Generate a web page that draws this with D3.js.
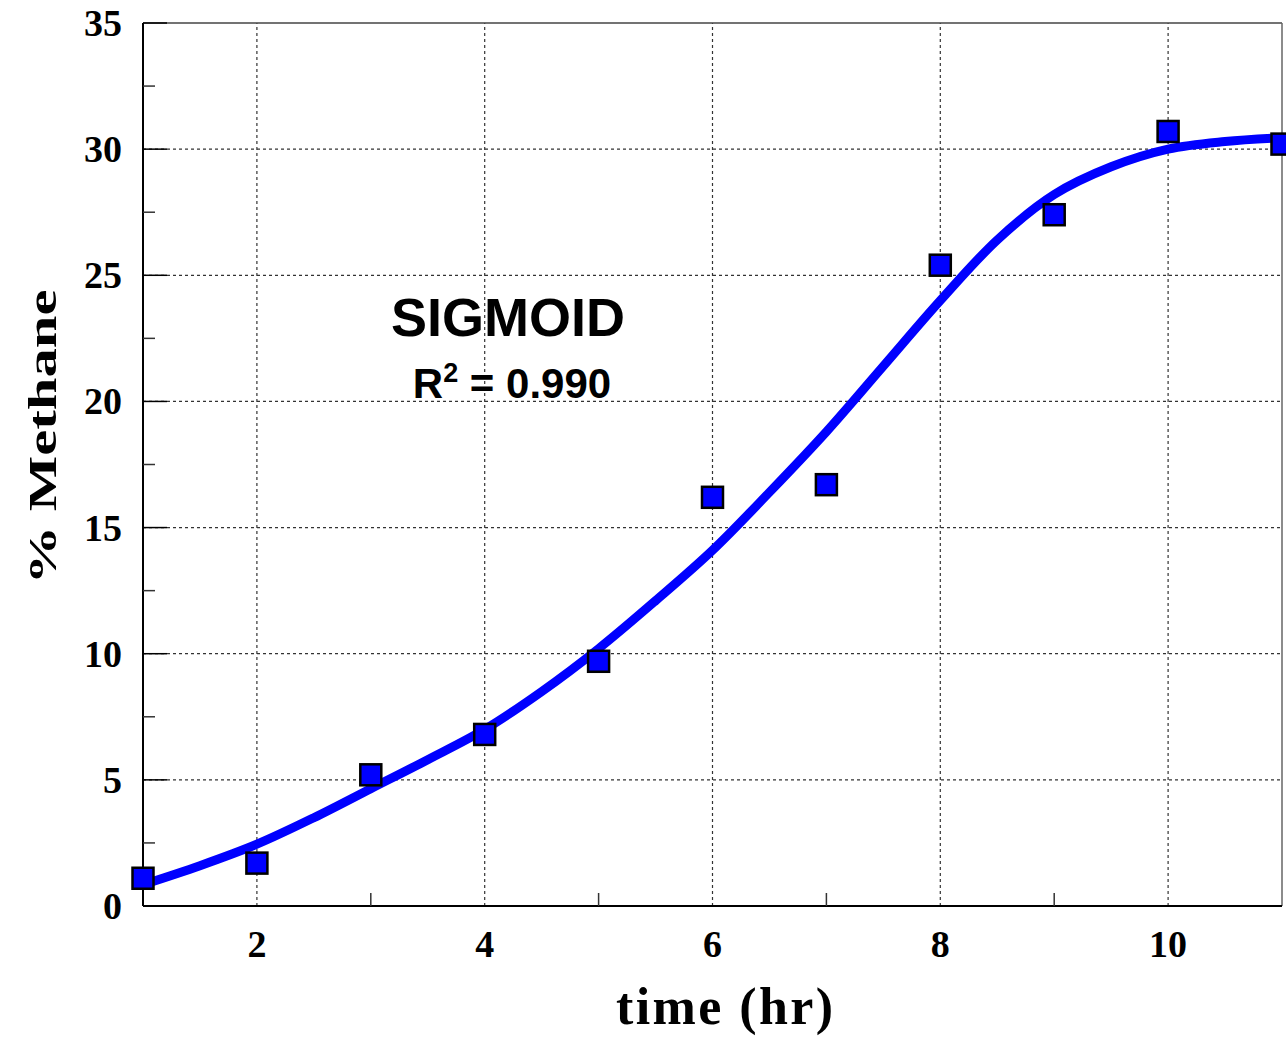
<!DOCTYPE html>
<html>
<head>
<meta charset="utf-8">
<script src="https://cdn.jsdelivr.net/npm/d3@7"></script>
<style>
  body { margin: 0; background: #fff; }
  svg { display: block; }
</style>
</head>
<body>
<div id="chart"></div>
<script>
// measured points (time in hr, % methane)
var timeHr = [1, 2, 3, 4, 5, 6, 7, 8, 9, 10, 11];
var methanePct = [1.1, 1.7, 5.2, 6.8, 9.7, 16.2, 16.7, 25.4, 27.4, 30.7, 30.2];

// fitted sigmoid curve
var fitTime = [1, 1.5, 2, 2.5, 3, 3.5, 4, 4.5, 5, 5.5, 6, 6.5, 7, 7.5, 8, 8.5, 9, 9.5, 10, 10.5, 11];
var fitPct = [0.85, 1.6, 2.45, 3.5, 4.65, 5.8, 7.0, 8.5, 10.2, 12.1, 14.1, 16.4, 18.8, 21.4, 24.0, 26.4, 28.2, 29.3, 30.0, 30.3, 30.45];

var xMajor = [2, 4, 6, 8, 10];
var xMinor = [3, 5, 7, 9];
var yMajor = [0, 5, 10, 15, 20, 25, 30, 35];
var yMinor = [2.5, 7.5, 12.5, 17.5, 22.5, 27.5, 32.5];

var W = 1286, H = 1047;
var m = { left: 143, right: 4, top: 23, bottom: 141 };

var svg = d3.select("#chart").append("svg")
  .attr("width", W)
  .attr("height", H);

var x = d3.scaleLinear().domain([1, 11]).range([m.left, W - m.right]);
var y = d3.scaleLinear().domain([0, 35]).range([H - m.bottom, m.top]);

var x0 = x(1), x1 = x(11), y0 = y(0), y1 = y(35);

// dotted grid
svg.append("g").selectAll("line")
  .data(yMajor.filter(d => d > 0 && d < 35))
  .enter().append("line")
    .attr("x1", x0).attr("x2", x1)
    .attr("y1", d => y(d)).attr("y2", d => y(d))
    .attr("stroke", "#333").attr("stroke-width", 1.2)
    .attr("stroke-dasharray", "3,3");

svg.append("g").selectAll("line")
  .data(xMajor)
  .enter().append("line")
    .attr("x1", d => x(d)).attr("x2", d => x(d))
    .attr("y1", y0).attr("y2", y1)
    .attr("stroke", "#333").attr("stroke-width", 1.2)
    .attr("stroke-dasharray", "3,3");

// frame
svg.append("line").attr("x1", x0).attr("x2", x1).attr("y1", y1).attr("y2", y1)
  .attr("stroke", "#444").attr("stroke-width", 1.5);
svg.append("line").attr("x1", x1).attr("x2", x1).attr("y1", y1).attr("y2", y0)
  .attr("stroke", "#666").attr("stroke-width", 1.5);
svg.append("line").attr("x1", x0).attr("x2", x1).attr("y1", y0).attr("y2", y0)
  .attr("stroke", "#000").attr("stroke-width", 2);
svg.append("line").attr("x1", x0).attr("x2", x0).attr("y1", y1).attr("y2", y0)
  .attr("stroke", "#000").attr("stroke-width", 2);

// inward ticks
svg.append("g").selectAll("line")
  .data(yMinor)
  .enter().append("line")
    .attr("x1", x0).attr("x2", x0 + 12)
    .attr("y1", d => y(d)).attr("y2", d => y(d))
    .attr("stroke", "#333").attr("stroke-width", 1.5);
svg.append("g").selectAll("line")
  .data(yMajor)
  .enter().append("line")
    .attr("x1", x0).attr("x2", x0 + 24)
    .attr("y1", d => y(d)).attr("y2", d => y(d))
    .attr("stroke", "#000").attr("stroke-width", 1.5);
svg.append("g").selectAll("line")
  .data(xMinor)
  .enter().append("line")
    .attr("x1", d => x(d)).attr("x2", d => x(d))
    .attr("y1", y0).attr("y2", y0 - 13)
    .attr("stroke", "#333").attr("stroke-width", 1.5);

// tick labels
svg.append("g").selectAll("text")
  .data(yMajor)
  .enter().append("text")
    .attr("x", 122)
    .attr("y", d => y(d) + 13)
    .attr("text-anchor", "end")
    .style("font", "bold 38px 'Liberation Serif', serif")
    .text(d => d);

svg.append("g").selectAll("text")
  .data(xMajor)
  .enter().append("text")
    .attr("x", d => x(d))
    .attr("y", 957)
    .attr("text-anchor", "middle")
    .style("font", "bold 38px 'Liberation Serif', serif")
    .text(d => d);

// axis titles
svg.append("text")
  .attr("transform", "translate(56,437) rotate(-90)")
  .attr("text-anchor", "middle")
  .attr("textLength", 295)
  .attr("lengthAdjust", "spacingAndGlyphs")
  .style("font", "bold 40px 'Liberation Serif', serif")
  .text("% Methane");

svg.append("text")
  .attr("x", 616)
  .attr("y", 1024)
  .attr("textLength", 217)
  .attr("lengthAdjust", "spacing")
  .style("font", "bold 52px 'Liberation Serif', serif")
  .text("time (hr)");

// fitted curve
var line = d3.line()
  .x((d, i) => x(fitTime[i]))
  .y(d => y(d))
  .curve(d3.curveCatmullRom);

svg.append("path")
  .datum(fitPct)
  .attr("d", line)
  .attr("fill", "none")
  .attr("stroke", "#0000ff")
  .attr("stroke-width", 9)
  .attr("stroke-linecap", "butt");

// data markers
var s = 21;
svg.append("g").selectAll("rect")
  .data(methanePct)
  .enter().append("rect")
    .attr("x", (d, i) => x(timeHr[i]) - s / 2)
    .attr("y", d => y(d) - s / 2)
    .attr("width", s).attr("height", s)
    .attr("fill", "#0000ff")
    .attr("stroke", "#000")
    .attr("stroke-width", 2.5);

// annotation
svg.append("text")
  .attr("x", 508).attr("y", 336)
  .attr("text-anchor", "middle")
  .style("font", "bold 54px 'Liberation Sans', Arial, sans-serif")
  .text("SIGMOID");

var r2 = svg.append("text")
  .attr("x", 512).attr("y", 398)
  .attr("text-anchor", "middle")
  .style("font", "bold 42px 'Liberation Sans', Arial, sans-serif");
r2.append("tspan").text("R");
r2.append("tspan").attr("dy", -16).style("font-size", "27px").text("2");
r2.append("tspan").attr("dy", 16).text(" = 0.990");
</script>
</body>
</html>
